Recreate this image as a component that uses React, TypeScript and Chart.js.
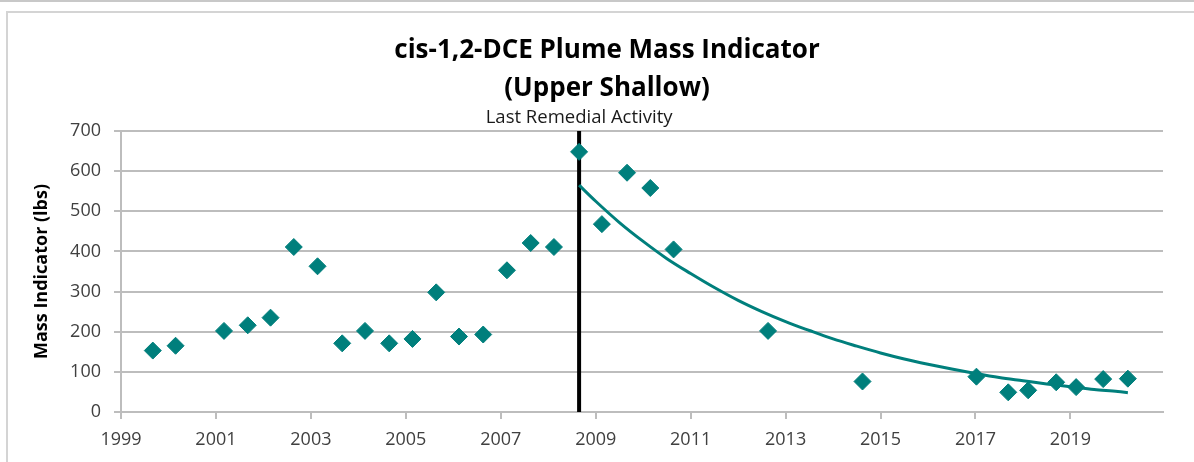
import React, { useEffect, useRef } from 'react';
import { Chart, registerables } from 'chart.js';

Chart.register(...registerables);

const chartTitle = ['cis-1,2-DCE Plume Mass Indicator', '(Upper Shallow)'];
const yAxisLabel = 'Mass Indicator (lbs)';
const eventLabel = 'Last Remedial Activity';
const eventYear = 2008.65;

const sampleYears = [
  1999.67, 2000.15, 2001.17, 2001.67, 2002.15, 2002.64, 2003.14, 2003.66, 2004.14, 2004.65,
  2005.14, 2005.64, 2006.12, 2006.63, 2007.13, 2007.63, 2008.12, 2008.65, 2009.13, 2009.66,
  2010.15, 2010.64, 2012.63, 2014.62, 2017.02, 2017.69, 2018.11, 2018.7, 2019.12, 2019.69,
  2020.21,
];
const massValues = [
  153, 165, 202, 216, 235, 411, 363, 171, 202, 171,
  182, 298, 188, 193, 353, 421, 411, 648, 468, 596,
  558, 405, 202, 76, 88, 49, 54, 74, 62, 82,
  83,
];

const trendYears = [
  2008.65, 2009, 2009.5, 2010, 2010.5, 2011, 2011.5, 2012, 2012.5, 2013, 2013.5, 2014, 2014.5,
  2015, 2015.5, 2016, 2016.5, 2017, 2017.5, 2018, 2018.5, 2019, 2019.5, 2020, 2020.21,
];
const trendValues = [
  565, 525, 472, 425, 382, 345, 310, 278, 250, 225, 203, 182, 164,
  147, 132, 119, 107, 96, 86, 78, 70, 63, 56, 51, 48,
];

const xTickYears = [1999, 2001, 2003, 2005, 2007, 2009, 2011, 2013, 2015, 2017, 2019];
const xMin = 1999;
const xMax = 2020.95;
const yMin = 0;
const yMax = 700;
const yStep = 100;

const TEAL = '#007f7c';
const GRID = '#bdbdbd';
const FONT = "'Open Sans', sans-serif";

const overlayPlugin = {
  id: 'overlayText',
  afterDraw(chart: any) {
    const ctx = chart.ctx;
    ctx.save();
    ctx.fillStyle = '#000';
    ctx.textAlign = 'center';
    ctx.textBaseline = 'alphabetic';
    ctx.font = `bold 26px ${FONT}`;
    ctx.fillText(chartTitle[0], 607, 58);
    ctx.fillText(chartTitle[1], 607, 96);
    ctx.font = `18.5px ${FONT}`;
    ctx.fillStyle = '#1a1a1a';
    const ex = chart.scales.x.getPixelForValue(eventYear);
    ctx.fillText(eventLabel, ex, 123);
    ctx.restore();
  },
};

export default function App() {
  const canvasRef = useRef<HTMLCanvasElement | null>(null);

  useEffect(() => {
    if (!canvasRef.current) return;
    const chart = new Chart(canvasRef.current, {
      type: 'scatter',
      data: {
        datasets: [
          {
            label: 'Mass Indicator',
            data: sampleYears.map((x, i) => ({ x, y: massValues[i] })),
            pointStyle: 'rectRot',
            pointRadius: 8.5,
            backgroundColor: TEAL,
            borderColor: TEAL,
            borderWidth: 1,
            showLine: false,
          },
          {
            label: 'Trend',
            data: trendYears.map((x, i) => ({ x, y: trendValues[i] })),
            showLine: true,
            pointRadius: 0,
            borderColor: TEAL,
            borderWidth: 3,
            cubicInterpolationMode: 'monotone',
            fill: false,
          },
          {
            label: eventLabel,
            data: [
              { x: eventYear, y: yMin },
              { x: eventYear, y: yMax },
            ],
            showLine: true,
            pointRadius: 0,
            borderColor: '#000',
            borderWidth: 4,
            fill: false,
          },
        ],
      } as any,
      options: {
        animation: false,
        responsive: false,
        maintainAspectRatio: false,
        layout: { padding: { left: 0, right: 31, top: 131, bottom: 0 } },
        plugins: {
          legend: { display: false },
          title: { display: false },
          tooltip: { enabled: false },
        },
        scales: {
          x: {
            type: 'linear',
            min: xMin,
            max: xMax,
            afterBuildTicks: (axis: any) => {
              axis.ticks = xTickYears.map((v) => ({ value: v }));
            },
            afterFit: (axis: any) => {
              axis.height = 50;
            },
            ticks: {
              font: { family: FONT, size: 18 },
              color: '#404040',
              padding: 10,
              maxRotation: 0,
              autoSkip: false,
              callback: (v: any) => String(v),
            },
            grid: {
              drawOnChartArea: false,
              drawTicks: true,
              tickLength: 7,
              color: GRID,
              lineWidth: 2,
            },
            border: { color: GRID, width: 2 },
          },
          y: {
            min: yMin,
            max: yMax,
            afterFit: (axis: any) => {
              axis.width = 121;
            },
            ticks: {
              stepSize: yStep,
              font: { family: FONT, size: 18 },
              color: '#404040',
              padding: 13,
            },
            title: {
              display: true,
              text: yAxisLabel,
              font: { family: FONT, size: 18, weight: 'bold' },
              color: '#000',
              padding: { top: 31, bottom: 0 },
            },
            grid: { color: GRID, lineWidth: 2, tickLength: 7, drawTicks: true },
            border: { color: GRID, width: 2 },
          },
        },
      } as any,
      plugins: [overlayPlugin],
    });
    return () => chart.destroy();
  }, []);

  return (
    <div
      style={{
        position: 'fixed',
        left: 0,
        top: 0,
        width: 1194,
        height: 462,
        overflow: 'hidden',
        background: '#fff',
      }}
    >
      <div style={{ position: 'absolute', left: 0, top: 0, width: 1194, height: 2, background: '#c8c8c8' }} />
      <div
        style={{
          position: 'absolute',
          left: 6,
          top: 11,
          width: 1220,
          height: 480,
          border: '2px solid #d4d4d4',
        }}
      />
      <canvas
        ref={canvasRef}
        width={1194}
        height={462}
        style={{ position: 'absolute', left: 0, top: 0, width: 1194, height: 462 }}
      />
    </div>
  );
}
